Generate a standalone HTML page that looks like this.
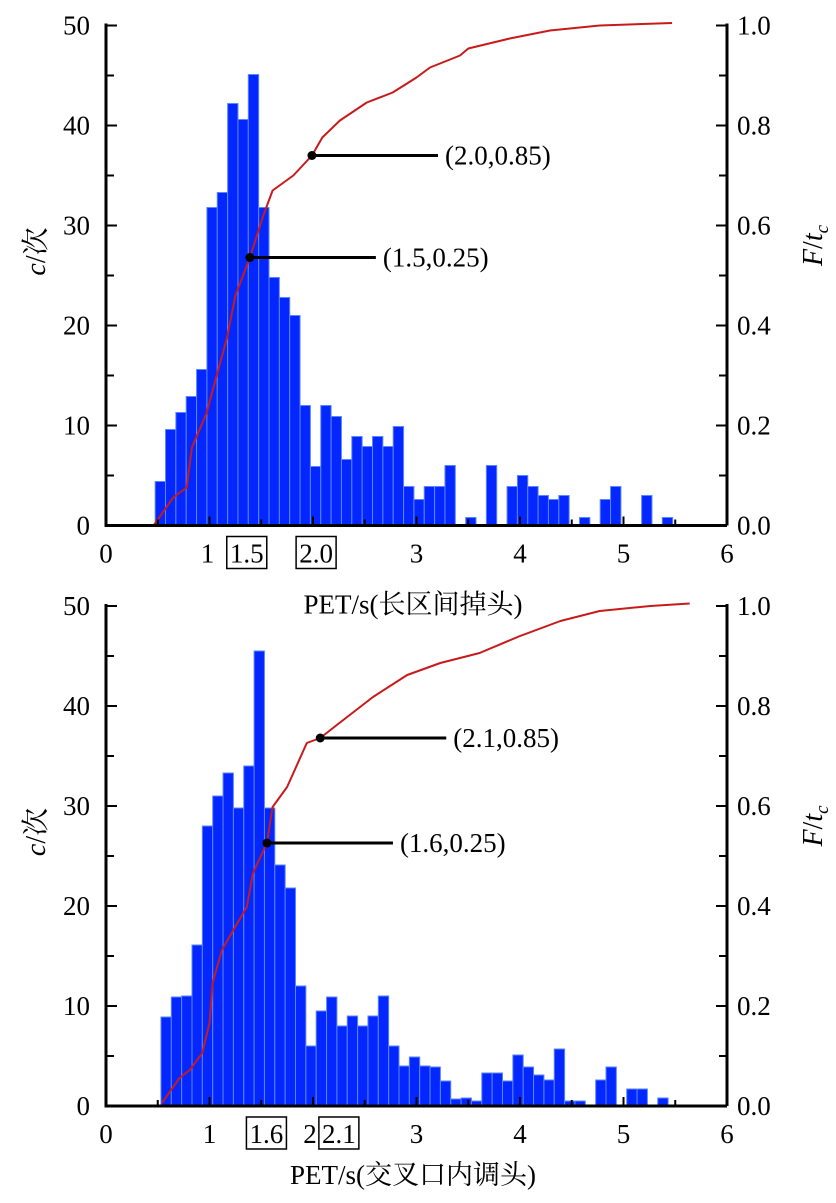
<!DOCTYPE html>
<html><head><meta charset="utf-8">
<style>
html,body{margin:0;padding:0;background:#fff;}
svg{display:block;}
text{font-family:"Liberation Serif","Noto Serif CJK SC","Noto Sans CJK SC",serif;fill:#000;}
</style></head>
<body>
<svg id="chart" width="836" height="1203" viewBox="0 0 836 1203" xmlns="http://www.w3.org/2000/svg"></svg>
<script>
// ---- top chart data (长区间掉头) ----
const topBinStart = 0.475;
const topBinWidth = 0.1;
const topCounts = [4.4,9.6,11.3,12.9,15.6,31.8,33.3,42.2,40.6,45.1,31.8,24.8,22.8,21.0,12,5.9,12,10.9,6.6,8.9,7.9,8.9,7.9,9.9,3.9,2.6,3.9,3.9,6,0,0.8,0,6,0,3.9,5,3.9,3.0,2.6,3.0,0,0.8,0,2.6,3.9,0,0,3.0,0,0.8];
const topCdfX = [0.46,0.65,0.78,0.83,0.97,1.07,1.17,1.25,1.39,1.52,1.61,1.81,1.99,2.09,2.26,2.52,2.77,3.0,3.13,3.42,3.5,3.9,4.29,4.77,5.47];
const topCdfF = [0,0.056,0.076,0.156,0.224,0.30,0.376,0.46,0.536,0.62,0.67,0.70,0.74,0.776,0.81,0.846,0.866,0.896,0.916,0.94,0.954,0.974,0.99,1.0,1.005];
const topMarks = [[1.99,0.74,"(2.0,0.85)"],[1.39,0.536,"(1.5,0.25)"]];
const topBoxed = [["1.5",1.36],["2.0",2.03]];
// ---- bottom chart data (交叉口内调头) ----
const botBinStart = 0.531;
const botBinWidth = 0.1;
const botCounts = [8.9,10.9,11,16.1,28,31,33.3,29.8,34,45.5,29.8,24.1,21.8,12,6,9.5,10.9,8,9,8,9,11,6,4,4.9,4,3.9,2.5,0.7,0.8,0.5,3.3,3.3,2.5,5.1,3.9,3.1,2.6,5.7,0.5,0.5,0,2.6,3.9,0,1.7,1.7,0,0.8];
const botCdfX = [0.54,0.71,0.81,0.93,1.0,1.03,1.12,1.27,1.36,1.42,1.555,1.61,1.75,1.94,2.07,2.23,2.58,2.91,3.23,3.61,4.0,4.39,4.77,5.26,5.64];
const botCdfF = [0.006,0.056,0.072,0.106,0.166,0.246,0.312,0.366,0.398,0.466,0.526,0.598,0.638,0.726,0.736,0.762,0.818,0.862,0.886,0.906,0.94,0.97,0.99,1.0,1.005];
const botMarks = [[2.07,0.736,"(2.1,0.85)"],[1.555,0.526,"(1.6,0.25)"]];
const botBoxed = [["1.6",1.55],["2.1",2.25]];
const yTicks = [0,10,20,30,40,50];
const fTicks = ["0.0","0.2","0.4","0.6","0.8","1.0"];
const xTicks = [0,1,2,3,4,5,6];

const NS="http://www.w3.org/2000/svg";
const svg=document.getElementById('chart');
function mk(tag,attrs,parent){const e=document.createElementNS(NS,tag);for(const k in attrs)e.setAttribute(k,attrs[k]);(parent||svg).appendChild(e);return e;}

function drawChart(cfg){
  const g=mk('g',{});
  
  
  const X0=106,X1=727,Y0=cfg.y0,Y1=cfg.y0-500;
  const xs=v=>X0+v*(X1-X0)/6;
  const ys=v=>Y0-v*(Y0-Y1)/50;
  const fs=v=>Y0-v*(Y0-Y1);
  cfg.counts.forEach((c,i)=>{
    if(c<=0)return;
    const l=xs(cfg.binStart+i*cfg.binWidth), r=xs(cfg.binStart+(i+1)*cfg.binWidth);
    const b=mk('rect',{x:l,y:ys(c),width:r-l,height:Y0-ys(c),fill:'#0527ff',stroke:'#5a86ff','stroke-width':1},g);
    
    
  });
  let d='';
  cfg.cdfX.forEach((x,i)=>{d+=(i?'L':'M')+xs(x).toFixed(1)+' '+fs(cfg.cdfF[i]).toFixed(1);});
  const p=mk('path',{d:d,fill:'none',stroke:'#c81a1a','stroke-width':2,'stroke-linejoin':'round'},g);
  
  
  const ax=mk('path',{d:`M${X0} ${Y1-2}V${Y0}H${X1}M${X1} ${Y1-2}V${Y0}`,stroke:'#000','stroke-width':3,fill:'none'},g);
  
  
  for(let v=0;v<=50;v+=5){
    const L=v%10===0?11:8;
    mk('line',{x1:X0,x2:X0+L,y1:ys(v),y2:ys(v),stroke:'#000','stroke-width':2},g);
    mk('line',{x1:X1,x2:X1-L,y1:ys(v),y2:ys(v),stroke:'#000','stroke-width':2},g);
  }
  for(let v=0;v<=6;v+=0.5){
    const L=Number.isInteger(v)?9:6;
    mk('line',{x1:xs(v),x2:xs(v),y1:Y0,y2:Y0-L,stroke:'#000','stroke-width':2},g);
  }
  yTicks.forEach(v=>{
    const t=mk('text',{x:90,y:ys(v)+9,'text-anchor':'end','font-size':27},g);t.textContent=v;
    
    
  });
  fTicks.forEach((v,i)=>{
    const t=mk('text',{x:737,y:fs(i*0.2)+9,'font-size':27},g);t.textContent=v;
    
    
  });
  xTicks.forEach(v=>{
    if(cfg.skipX.includes(v))return;
    const t=mk('text',{x:xs(v)+cfg.xShift(v),y:Y0+37,'text-anchor':'middle','font-size':27},g);t.textContent=v;
    
    
  });
  cfg.boxed.forEach(([s,v])=>{
    const cx=xs(v);
    const r=mk('rect',{x:cx-20,y:Y0+11,width:40,height:32,fill:'none',stroke:'#000','stroke-width':1.5},g);
    
    
    const t=mk('text',{x:cx,y:Y0+37,'text-anchor':'middle','font-size':27},g);t.textContent=s;
    
    
  });
  cfg.marks.forEach(([x,f,s])=>{
    const px=xs(x),py=fs(f);
    const ln=mk('line',{x1:px,x2:px+126,y1:py,y2:py,stroke:'#000','stroke-width':3},g);
    
    
    const c=mk('circle',{cx:px,cy:py,r:4.5,fill:'#000'},g);
    
    
    const t=mk('text',{x:px+133,y:py+9,'font-size':27},g);t.textContent=s;
    
    
  });
  const xt=mk('text',{x:413,y:Y0+cfg.titleOff,'text-anchor':'middle','font-size':27},g);xt.textContent=cfg.xTitle;
  
  
  const yt=mk('text',{x:0,y:0,'text-anchor':'middle','font-size':28,transform:`translate(45 ${Y0-274}) rotate(-90)`},g);
  yt.innerHTML='<tspan font-style="italic">c</tspan>/次';
  
  
  const ft=mk('text',{x:0,y:0,'text-anchor':'middle','font-size':28,transform:`translate(822 ${Y0-280}) rotate(-90)`},g);
  ft.innerHTML='<tspan font-style="italic">F</tspan>/<tspan font-style="italic">t</tspan><tspan font-style="italic" font-size="19" dy="6">c</tspan>';
  
  
}

drawChart({name:'top-chart',y0:525.5,binStart:topBinStart,binWidth:topBinWidth,counts:topCounts,cdfX:topCdfX,cdfF:topCdfF,marks:topMarks,boxed:topBoxed,skipX:[2],xShift:v=>v===1?-2:0,titleOff:88,xTitle:'PET/s(长区间掉头)'});
drawChart({name:'bottom-chart',y0:1106,binStart:botBinStart,binWidth:botBinWidth,counts:botCounts,cdfX:botCdfX,cdfF:botCdfF,marks:botMarks,boxed:botBoxed,skipX:[],xShift:v=>v===2?-3:0,titleOff:78,xTitle:'PET/s(交叉口内调头)'});
</script>
</body></html>
